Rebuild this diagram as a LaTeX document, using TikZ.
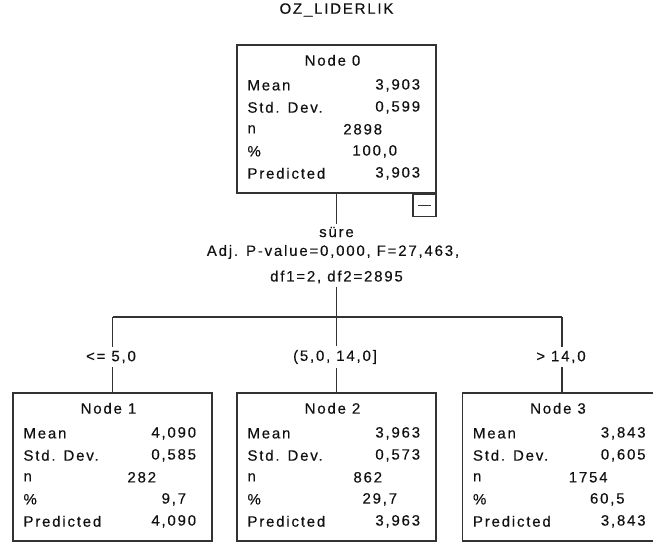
\documentclass[tikz,border=0pt]{standalone}
\usepackage{fontspec}
\setmainfont{Liberation Sans}[LetterSpace=12,FakeBold=0.3]
\usetikzlibrary{calc}
\definecolor{txt}{HTML}{111111}
\definecolor{edge}{HTML}{333333}

% One tree node: box, header and the five statistic rows.
% #1 name, #2 centre, #3 node number, #4 mean (= predicted), #5 std. dev.,
% #6 n, #7 percent, #8 right edge of percent, #9 right edge of n
\newcommand\treebox[9]{%
  \node[box] (#1) at #2 {};
  \node (#1-id) at ([shift={(-4,16)}]#1.north) {Node #3};
  \node[lbl] (#1-ml) at ([shift={(11,41)}]#1.north west) {Mean};
  \node[val] (#1-mv) at ([shift={(184,41)}]#1.north west) {#4};
  \node[lbl] (#1-sl) at ([shift={(11,63)}]#1.north west) {Std. Dev.};
  \node[val] (#1-sv) at ([shift={(184,63)}]#1.north west) {#5};
  \node[lbl] (#1-nl) at ([shift={(11,85)}]#1.north west) {n};
  \node[val] (#1-nv) at ([shift={(#9,85)}]#1.north west) {#6};
  \node[lbl] (#1-pl) at ([shift={(11,107)}]#1.north west) {\%};
  \node[val] (#1-pv) at ([shift={(#8,107)}]#1.north west) {#7};
  \node[lbl] (#1-rl) at ([shift={(11,129)}]#1.north west) {Predicted};
  \node[val] (#1-rv) at ([shift={(184,129)}]#1.north west) {#4};
}

\begin{document}
\begin{tikzpicture}[x=1pt,y=-1pt,
  every node/.style={font=\fontsize{15}{17}\selectfont, text=txt, inner sep=0pt},
  box/.style={draw=edge, line width=1.4pt, minimum width=199pt, minimum height=148pt},
  lbl/.style={anchor=west},
  val/.style={anchor=east},
  conn/.style={draw=edge, line width=1.4pt},
  cond/.style={inner sep=4pt},
  toggle/.style={draw=edge, line width=1.4pt, minimum width=23pt, minimum height=22pt, anchor=north east}]
\useasboundingbox (0,0) rectangle (653,544);
\clip (0,0) rectangle (653,544);

\node (title) at (336.5,10) {OZ\_LIDERLIK};

% root and its collapse toggle
\treebox{n0}{(336.5,119)}{0}{3,903}{0,599}{2898}{100,0}{161}{146}
\node[toggle] (tg) at (n0.south east) {};
\draw[conn] ([shift={(6,0)}]tg.west) -- ([shift={(-6,0)}]tg.east);

% split description
\node[inner sep=3pt] (s1) at (336.5,232) {süre};
\node (s2) at (333,252) {Adj. P-value=0,000, F=27,463,};
\node[inner sep=3pt] (s3) at (336.5,277) {df1=2, df2=2895};

% child nodes
\treebox{n1}{(112.5,467)}{1}{4,090}{0,585}{282}{9,7}{174}{144}
\treebox{n2}{(336.5,467)}{2}{3,963}{0,573}{862}{29,7}{161}{146}
\treebox{n3}{(562,467)}{3}{3,843}{0,605}{1754}{60,5}{163}{146}

% branch conditions
\node[cond] (e1) at (111,357) {<= 5,0};
\node[cond] (e2) at (335,357) {(5,0, 14,0]};
\node[cond] (e3) at (561,357) {> 14,0};

% connectors
\coordinate (b1) at (112.5,317);
\coordinate (b2) at (336.5,317);
\coordinate (b3) at (562,317);
\draw[conn] (n0.south) -- (n0.south |- s1.north);
\draw[conn] (s3.south -| b2) -- (b2);
\draw[conn] (b1) -- (b3);
\draw[conn] (b1) -- (b1 |- e1.north);
\draw[conn] (b1 |- e1.south) -- (n1.north);
\draw[conn] (b2) -- (b2 |- e2.north);
\draw[conn] (b2 |- e2.south) -- (n2.north);
\draw[conn] (b3) -- (b3 |- e3.north);
\draw[conn] (b3 |- e3.south) -- (n3.north);
\end{tikzpicture}
\end{document}
